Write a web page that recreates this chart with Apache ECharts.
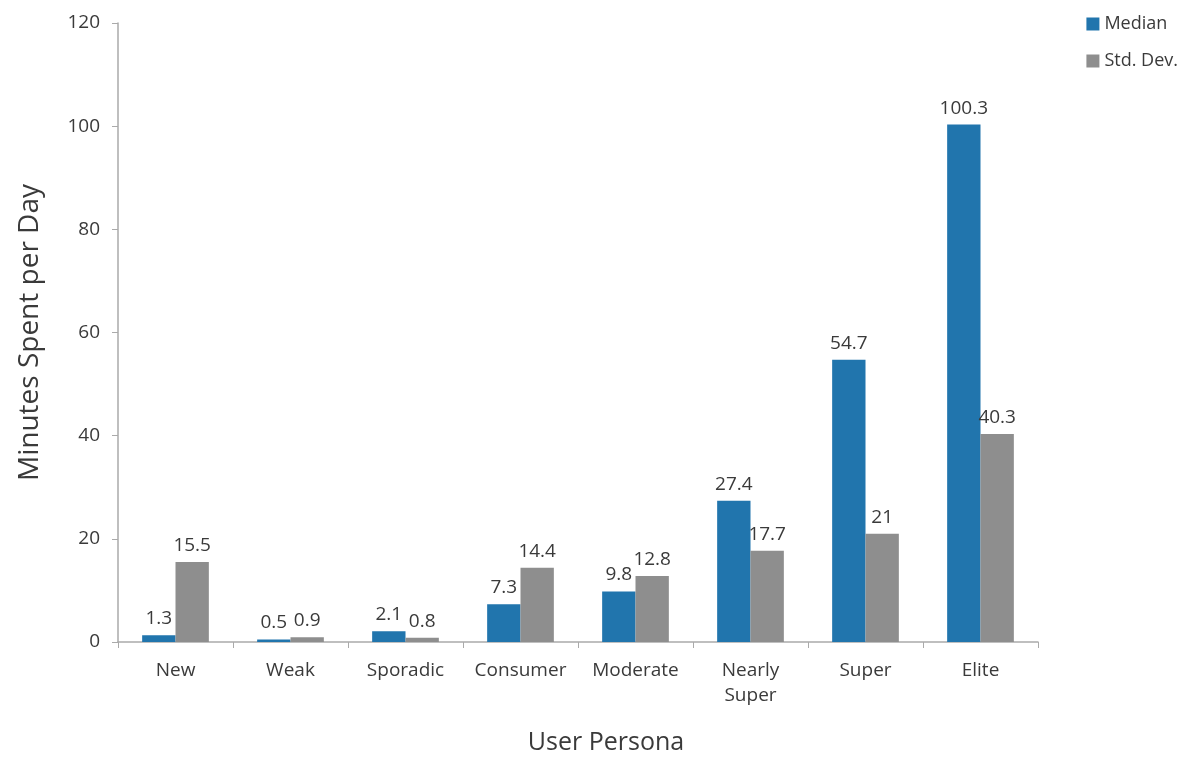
<!DOCTYPE html>
<html><head><meta charset="utf-8">
<script src="https://cdn.jsdelivr.net/npm/echarts@6/dist/echarts.min.js"></script>
<style>html,body{margin:0;padding:0;background:#fff}#c{width:1180px;height:757px}</style>
</head><body><div id="c"></div>
<script>
var categories = ['New', 'Weak', 'Sporadic', 'Consumer', 'Moderate', 'Nearly\nSuper', 'Super', 'Elite'];
var medianValues = [1.3, 0.5, 2.1, 7.3, 9.8, 27.4, 54.7, 100.3];
var stdDevValues = [15.5, 0.9, 0.8, 14.4, 12.8, 17.7, 21, 40.3];
var yTicks = [0, 20, 40, 60, 80, 100, 120];

var font = '"Open Sans", Lato, sans-serif';
var txt = '#3a3a3a';
var chart = echarts.init(document.getElementById('c'));
var lbl = {show: true, position: 'top', color: txt, fontSize: 19, fontFamily: font, distance: 7};
chart.setOption({
  animation: false,
  textStyle: {fontFamily: font},
  grid: {left: 118, right: 142, top: 23, bottom: 115, containLabel: false, outerBoundsMode: 'none'},
  legend: {
    right: 0, top: 10, orient: 'vertical', itemGap: 19, padding: [5, 2, 5, 5],
    itemWidth: 13, itemHeight: 13, icon: 'rect',
    textStyle: {fontSize: 18, color: txt, fontFamily: font},
    data: ['Median', 'Std. Dev.']
  },
  xAxis: {
    type: 'category', data: categories,
    name: 'User Persona', nameLocation: 'middle', nameGap: 88,
    nameTextStyle: {fontSize: 25, color: txt, fontFamily: font, padding: [0, 0, 0, 56]},
    axisLine: {lineStyle: {color: '#aaa', width: 1.5}},
    axisTick: {show: true, length: 6, lineStyle: {color: '#aaa'}},
    axisLabel: {interval: 0, hideOverlap: false, fontSize: 19, color: txt, margin: 16, lineHeight: 25, fontFamily: font}
  },
  yAxis: {
    type: 'value', min: yTicks[0], max: yTicks[yTicks.length - 1], interval: 20,
    name: 'Minutes Spent per Day', nameLocation: 'middle', nameGap: 74,
    nameTextStyle: {fontSize: 28, color: txt, fontFamily: font},
    axisLine: {show: true, lineStyle: {color: '#aaa', width: 1.5}},
    axisTick: {show: true, length: 6, lineStyle: {color: '#aaa'}},
    splitLine: {show: false},
    axisLabel: {fontSize: 19, color: txt, margin: 18, fontFamily: font}
  },
  series: [
    {name: 'Median', type: 'bar', data: medianValues, barGap: '0%', barCategoryGap: '42%',
     itemStyle: {color: '#2175AD'}, label: lbl},
    {name: 'Std. Dev.', type: 'bar', data: stdDevValues, barGap: '0%', barCategoryGap: '42%',
     itemStyle: {color: '#8E8E8E'}, label: lbl}
  ]
});
</script></body></html>
